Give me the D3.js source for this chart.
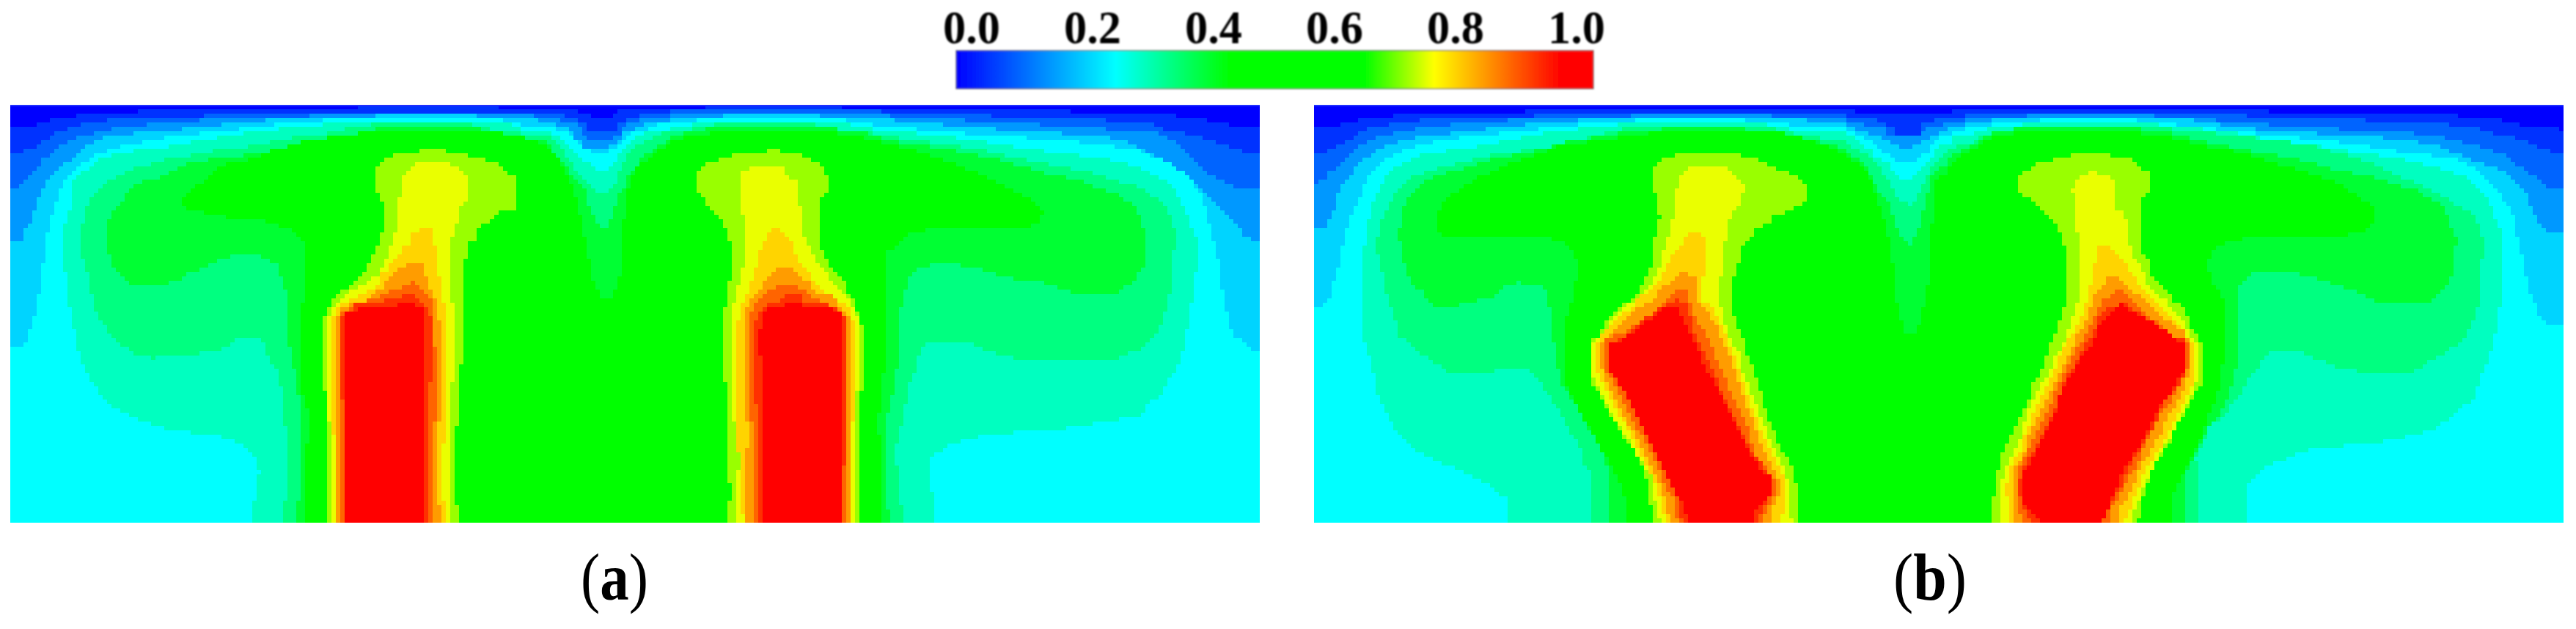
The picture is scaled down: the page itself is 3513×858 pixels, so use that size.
<!DOCTYPE html>
<html><head><meta charset="utf-8">
<script src="https://cdn.jsdelivr.net/npm/d3@7/dist/d3.min.js"></script>
<style>html,body{margin:0;padding:0;background:#fff;overflow:hidden}</style>
</head><body><svg id="chart" width="3513" height="858"></svg>
<script>
// Colour-bar ticks
const tickValues=[0,0.2,0.4,0.6,0.8,1];
const tickLabels=["0.0","0.2","0.4","0.6","0.8","1.0"];
const barStops=[[0,"#0000ff"],[0.25,"#00ffff"],[0.43,"#00ff00"],[0.64,"#00ff00"],[0.75,"#ffff00"],[0.95,"#ff0000"],[1,"#ff0000"]];
const captions=["(","a",")"];
// Contour levels (lower bound of each band) and the band colours
const contourLevels=[0,0.05,0.1,0.15,0.2,0.25,0.3,0.35,0.4,0.45,0.65,0.72,0.78,0.83,0.88,0.93,0.97];
const bandColours=["#0000ff","#0032ff","#0064ff","#0098ff","#00d4ff","#00ffff","#00ffc0","#00ff80","#00ff33","#00ff00","#99ff00","#eaff00","#ffd400","#ff9c00","#ff6400","#ff3000","#ff0000"];
// Field coordinates: x along the domain, y depth. Each list: iso-line of a level.
// PANEL A, outer iso-lines (left half, right half)
const a1L=[[24,115],[90,115],[90,97],[120,97],[120,82],[183,82],[183,66],[330,66],[330,50],[848,50],[848,35],[1185,35],[1185,50],[1375,50],[1375,66],[1470,66],[1470,50]];
const a1R=[[190,50],[190,35],[518,35],[518,50],[1065,50],[1065,66],[1310,66],[1310,82],[1383,82],[1383,97],[1437,97],[1437,115],[1510,115]];
const a2L=[[24,208],[55,208],[55,193],[88,193],[88,178],[120,150],[130,130],[183,115],[205,97],[310,82],[480,82],[480,66],[1345,66],[1345,82],[1408,82],[1408,97],[1460,97],[1460,82]];
const a2R=[[45,82],[45,66],[118,66],[118,50],[612,50],[612,66],[875,66],[875,82],[1140,82],[1140,97],[1255,97],[1255,115],[1360,146],[1425,178],[1458,193],[1480,208],[1510,208]];
const a3L=[[24,335],[55,320],[70,290],[88,256],[105,225],[120,208],[130,193],[172,160],[195,146],[280,115],[405,97],[552,82],[733,82],[733,66],[1270,66],[1270,82],[1335,82],[1335,97],[1365,115],[1397,130],[1460,130],[1480,115]];
const a3R=[[20,97],[45,82],[118,66],[635,66],[635,82],[815,82],[815,97],[990,97],[990,115],[1140,115],[1140,130],[1255,130],[1300,160],[1330,193],[1395,290],[1465,335],[1510,335]];
const a4L=[[24,525],[55,525],[55,495],[68,463],[88,383],[100,335],[120,290],[140,256],[172,225],[205,178],[258,146],[352,130],[480,115],[575,97],[700,82],[895,82],[895,66],[1133,66],[1133,82],[1280,82],[1280,97],[1320,115],[1360,130],[1385,146],[1397,160],[1460,160],[1470,146]];
const a4R=[[0,130],[25,115],[55,97],[105,82],[233,82],[233,66],[465,66],[465,82],[640,82],[640,97],[760,97],[760,115],[888,115],[888,130],[1035,130],[1035,146],[1140,146],[1215,178],[1290,240],[1340,290],[1395,370],[1437,430],[1480,510],[1510,525]];
const a5L=[[24,890],[58,890],[68,845],[78,810],[88,735],[100,635],[110,510],[120,430],[130,400],[152,300],[172,270],[195,240],[237,208],[258,193],[310,178],[352,160],[425,146],[510,130],[605,115],[700,97],[828,82],[1185,82],[1205,97],[1280,115],[1325,130],[1345,146],[1375,178],[1397,208],[1470,208],[1480,178]];
const a5R=[[10,160],[30,130],[55,115],[85,97],[190,82],[518,82],[540,97],[645,115],[760,130],[885,146],[1035,160],[1130,178],[1215,193],[1270,225],[1310,256],[1340,290],[1370,350],[1385,420],[1395,500],[1415,605],[1425,740],[1437,800],[1447,860],[1465,875],[1490,905],[1510,905]];
const a6L=[[595,1524],[595,1460],[605,1450],[605,1350],[617,1345],[605,1300],[595,1270],[565,1240],[545,1222],[470,1208],[395,1190],[362,1175],[320,1150],[290,1130],[258,1100],[235,1065],[225,1035],[205,985],[193,950],[183,890],[172,810],[162,730],[152,600],[152,480],[172,365],[172,300],[205,270],[237,225],[280,208],[352,193],[425,178],[480,160],[552,146],[605,130],[700,115],[828,97],[1205,97],[1220,115],[1270,130],[1300,146]];
const a6R=[[160,97],[518,97],[560,115],[645,130],[760,146],[900,178],[1035,208],[1140,225],[1215,256],[1290,305],[1320,370],[1362,520],[1362,600],[1350,720],[1335,860],[1320,950],[1300,1000],[1280,1060],[1250,1095],[1225,1140],[1160,1160],[1100,1175],[1025,1192],[875,1208],[800,1235],[760,1255],[728,1300],[728,1400],[738,1460],[738,1524]];
const a7L=[[668,1524],[680,1410],[680,1220],[668,1050],[660,985],[645,960],[635,920],[625,880],[605,860],[575,860],[550,880],[530,905],[500,905],[470,925],[362,937],[320,920],[290,890],[268,860],[245,815],[225,770],[215,700],[205,620],[193,560],[193,480],[205,400],[215,365],[258,305],[300,270],[405,225],[480,208],[530,193],[625,178],[660,160],[730,146],[808,130],[828,115],[922,97],[1110,97],[1130,115],[1220,130],[1265,145]];
const a7R=[[160,115],[265,97],[445,97],[475,115],[560,130],[645,150],[740,170],[850,195],[965,235],[1090,270],[1215,325],[1280,380],[1310,480],[1300,680],[1290,745],[1280,790],[1270,840],[1250,870],[1225,905],[1185,925],[1160,950],[995,950],[920,935],[850,905],[810,875],[720,880],[700,930],[690,990],[680,1020],[645,1270],[655,1415],[665,1524]];
const a8L=[[700,1524],[712,1410],[712,1110],[700,985],[690,930],[680,820],[680,715],[668,660],[660,610],[640,590],[615,572],[552,572],[520,590],[500,605],[480,620],[450,635],[427,655],[405,670],[320,685],[300,665],[280,635],[268,605],[258,555],[258,447],[268,415],[290,380],[310,335],[340,305],[385,290],[405,270],[450,240],[530,225],[605,208],[660,193],[755,160],[808,146],[880,130],[902,115],[1130,115],[1165,130],[1228,160],[1260,165]];
const a8R=[[233,115],[475,115],[560,130],[640,165],[730,185],[880,225],[1005,280],[1090,305],[1130,335],[1170,355],[1215,400],[1235,480],[1235,605],[1215,655],[1195,680],[1160,715],[1090,715],[1000,670],[900,650],[845,620],[790,605],[735,605],[700,620],[680,640],[665,720],[655,765],[655,925],[640,1050],[625,1150],[625,1460],[635,1524]];
const a9L=[[722,1524],[722,1460],[733,1130],[722,1110],[712,985],[712,870],[722,685],[722,525],[690,480],[660,463],[617,447],[510,430],[470,415],[427,395],[427,370],[470,320],[500,290],[500,270],[552,240],[605,225],[625,208],[660,193],[700,178],[733,160],[808,146],[880,130],[1165,130],[1230,146],[1260,160],[1285,175]];
const a9R=[[160,146],[233,130],[475,130],[550,146],[640,178],[720,210],[780,240],[880,305],[920,335],[945,355],[975,385],[995,410],[985,462],[930,478],[730,478],[680,495],[655,525],[625,560],[625,925],[612,1030],[605,1160],[612,1415],[615,1524]];
// PANEL A, iso-lines around the central dip
const a1V=[[0,18],[150,18],[150,36],[205,36],[205,54],[295,54],[295,36],[313,36],[313,18],[600,18]];
const a2V=[[0,36],[95,36],[95,54],[150,54],[150,72],[185,72],[185,108],[313,108],[313,72],[350,72],[350,54],[405,54],[405,36],[530,36],[530,18],[600,18]];
const a3V=[[0,54],[78,54],[78,72],[150,72],[150,90],[168,90],[168,126],[185,126],[185,144],[295,144],[295,126],[330,126],[330,90],[350,90],[350,72],[405,72],[405,54],[530,54],[530,36],[600,36]];
const a4V=[[0,72],[60,72],[60,90],[112,90],[112,108],[130,108],[130,144],[168,144],[168,180],[275,180],[275,162],[313,162],[313,144],[330,144],[330,108],[385,108],[385,90],[420,90],[420,72],[515,72],[515,54],[600,54]];
const a5V=[[0,90],[58,90],[58,108],[112,108],[112,126],[130,126],[130,144],[150,144],[150,162],[168,162],[168,180],[205,180],[205,198],[275,198],[275,180],[313,180],[313,162],[330,162],[330,144],[350,144],[350,126],[368,126],[368,108],[440,108],[440,90],[475,90],[475,72],[600,72]];
const a6V=[[0,108],[40,108],[40,126],[78,126],[78,144],[95,144],[95,162],[112,162],[112,180],[130,180],[130,198],[150,198],[150,216],[168,216],[168,234],[205,234],[205,252],[222,252],[222,270],[275,270],[275,252],[295,252],[295,234],[313,234],[313,198],[330,198],[330,180],[350,180],[350,162],[368,162],[368,144],[385,144],[385,126],[420,126],[420,108],[530,108],[530,90],[600,90]];
const a7V=[[0,126],[22,126],[60,162],[78,180],[95,216],[112,234],[130,252],[150,290],[168,306],[205,342],[222,360],[275,360],[275,342],[295,324],[313,270],[330,234],[350,198],[368,180],[405,162],[440,144],[460,126],[495,126],[495,108],[600,108]];
const a8V=[[0,144],[22,144],[22,162],[40,180],[58,216],[78,234],[95,252],[112,270],[130,306],[168,342],[185,378],[185,414],[205,450],[222,474],[240,492],[240,510],[275,510],[275,474],[295,450],[295,415],[313,396],[313,365],[330,345],[350,290],[368,270],[385,250],[405,216],[440,198],[477,162],[530,144],[530,126],[568,126],[568,108],[600,108]];
const a9V=[[0,162],[22,180],[60,216],[78,234],[95,290],[112,306],[130,360],[150,432],[168,546],[185,546],[185,600],[200,700],[240,790],[280,790],[320,700],[330,600],[330,470],[345,440],[345,365],[368,290],[385,250],[440,216],[477,180],[530,162],[530,144],[568,144],[568,126],[600,126]];
// PANEL A, plume iso-lines
const a10P1=[[775,1524],[775,1050],[765,1045],[765,810],[775,765],[785,745],[795,715],[808,700],[828,685],[840,665],[860,640],[880,590],[890,558],[902,510],[912,475],[912,415],[902,350],[890,345],[890,258],[902,240],[922,225],[945,208],[997,208],[997,193],[1060,193],[1060,208],[1112,208],[1112,225],[1155,225],[1155,240],[1185,240],[1185,258],[1205,275],[1218,290],[1228,305],[1228,382],[1218,415],[1185,415],[1175,435],[1145,465],[1133,480],[1133,510],[1112,525],[1112,590],[1102,590],[1102,950],[1090,955],[1090,1170],[1080,1175],[1080,1460],[1090,1460],[1090,1524]];
const a11P1=[[785,1524],[785,1210],[775,1095],[775,810],[785,765],[808,730],[828,700],[850,685],[870,665],[900,635],[912,605],[922,575],[932,520],[932,495],[945,490],[945,365],[955,350],[955,305],[965,270],[975,258],[997,240],[1060,240],[1080,258],[1102,272],[1112,305],[1112,350],[1102,385],[1090,400],[1090,450],[1080,478],[1070,510],[1070,745],[1080,745],[1080,1015],[1070,1020],[1070,1524]];
const a12P1=[[795,1524],[795,1205],[785,1200],[785,810],[795,780],[808,750],[828,735],[850,715],[880,695],[905,680],[905,635],[922,620],[932,590],[945,575],[955,540],[975,525],[975,495],[997,478],[1028,478],[1028,540],[1040,540],[1040,650],[1050,650],[1050,730],[1060,745],[1060,1240],[1050,1240],[1050,1445],[1060,1445],[1060,1524]];
const a13P1=[[795,1524],[795,1180],[797,1100],[797,810],[808,765],[838,745],[870,735],[890,700],[912,685],[922,650],[932,640],[965,605],[975,590],[1007,605],[1007,635],[1017,650],[1017,685],[1028,715],[1040,745],[1040,810],[1050,810],[1050,1160],[1040,1160],[1040,1440],[1050,1524]];
const a14P1=[[808,1524],[808,1080],[807,780],[838,760],[850,745],[880,730],[922,700],[955,685],[975,665],[985,668],[997,685],[1017,715],[1028,745],[1028,840],[1040,1010],[1040,1150],[1028,1160],[1028,1524]];
const a15P1=[[817,1524],[817,1080],[807,1080],[807,780],[838,778],[838,745],[870,745],[922,730],[955,715],[985,715],[997,745],[1017,760],[1028,840],[1028,1015],[1017,1015],[1017,1524]];
const a16P1=[[817,1524],[817,778],[848,778],[848,762],[943,762],[943,746],[985,746],[985,762],[1007,762],[1007,1524]];
const a10P2=[[243,1524],[243,1445],[255,1440],[243,1240],[243,1030],[233,1030],[233,765],[243,760],[243,665],[255,660],[255,540],[243,480],[223,430],[200,400],[190,365],[170,350],[170,290],[180,256],[200,240],[233,225],[265,208],[340,208],[340,193],[370,193],[370,208],[423,208],[423,225],[465,240],[475,270],[486,290],[486,320],[475,365],[465,365],[465,555],[475,560],[486,590],[500,635],[528,670],[528,700],[550,745],[560,810],[570,815],[570,1045],[560,1050],[560,1524]];
const a11P2=[[265,1524],[265,1410],[275,1300],[255,1095],[255,780],[265,715],[275,655],[285,610],[285,430],[275,410],[275,290],[285,272],[307,256],[380,256],[390,288],[412,305],[412,380],[423,410],[423,490],[432,520],[445,560],[455,590],[480,635],[500,680],[528,715],[540,745],[550,780],[560,810],[560,1050],[550,1060],[550,1524]];
const a12P2=[[285,1524],[275,1405],[275,1300],[265,1200],[265,860],[275,780],[285,730],[307,650],[307,635],[318,590],[330,530],[350,478],[370,478],[400,525],[412,585],[435,625],[455,665],[475,700],[500,730],[530,745],[540,795],[550,810],[550,1070],[540,1205],[540,1524]];
const a13P2=[[285,1524],[295,1190],[285,1100],[285,800],[295,735],[318,700],[340,655],[360,620],[400,620],[412,640],[440,665],[455,700],[495,715],[510,745],[530,780],[540,810],[540,1524]];
const a14P2=[[307,1524],[307,1190],[295,1110],[295,795],[307,765],[318,735],[345,695],[360,685],[412,685],[445,715],[475,745],[497,760],[518,780],[528,795],[528,1524]];
const a15P2=[[318,1524],[318,1110],[307,1100],[307,860],[318,780],[328,765],[340,745],[380,730],[380,715],[423,715],[423,730],[455,745],[500,750],[518,778],[528,800],[528,1100],[518,1524]];
const a16P2=[[328,1524],[328,935],[318,925],[328,780],[340,762],[380,762],[380,746],[423,746],[423,762],[497,762],[518,778],[518,1524]];
// PANEL B, outer iso-lines
const b1L=[[39,115],[103,115],[103,97],[145,97],[145,82],[228,82],[228,66],[545,66],[545,50]];
const b1R=[[77,50],[840,50],[840,66],[1287,66],[1287,82],[1393,82],[1393,97],[1437,97],[1437,115],[1520,115],[1542,130]];
const b2L=[[39,208],[70,208],[70,193],[92,193],[92,178],[133,160],[145,130],[176,115],[250,97],[345,82],[565,82],[565,66]];
const b2R=[[108,66],[787,66],[787,82],[1063,82],[1063,97],[1265,97],[1265,115],[1340,115],[1340,130],[1413,146],[1445,160],[1470,178],[1490,193],[1542,208]];
const b3L=[[39,320],[60,305],[70,285],[103,240],[125,208],[145,178],[197,146],[250,130],[303,115],[418,97],[597,82],[797,82],[797,66],[1123,66],[1123,82],[1200,82]];
const b3R=[[257,82],[257,66],[565,66],[565,82],[640,82],[770,97],[915,115],[1140,130],[1235,146],[1330,178],[1395,208],[1450,270],[1490,305],[1510,335],[1542,335]];
const b4L=[[39,480],[70,465],[82,430],[103,320],[125,290],[145,240],[197,193],[250,160],[303,146],[418,130],[470,115],[597,97],[745,82],[1200,82],[1220,97]];
const b4R=[[205,82],[640,82],[670,97],[765,115],[860,130],[1065,146],[1160,160],[1235,178],[1310,225],[1395,270],[1455,350],[1470,420],[1500,490],[1542,493]];
const b5L=[[39,765],[70,745],[82,685],[103,573],[113,495],[125,430],[145,385],[165,300],[197,240],[218,225],[260,193],[300,178],[345,160],[418,146],[525,130],[608,115],[725,97],[893,82],[1030,82],[1105,97],[1230,115]];
const b5R=[[205,97],[385,82],[470,82],[565,97],[670,115],[765,130],[860,146],[965,160],[1060,178],[1160,205],[1280,225],[1340,270],[1385,340],[1420,420],[1445,590],[1460,700],[1490,800],[1510,825],[1542,825]];
const b6L=[[501,1524],[501,1445],[470,1410],[450,1380],[420,1365],[385,1335],[345,1318],[313,1285],[282,1270],[260,1240],[240,1210],[218,1160],[208,1110],[187,1060],[176,950],[155,860],[155,700],[155,570],[165,480],[176,400],[197,325],[218,270],[260,240],[303,208],[400,193],[450,178],[510,160],[608,130],[705,115],[820,97],[1105,97],[1130,115],[1230,130]];
const b6R=[[170,115],[310,97],[520,97],[640,115],[740,130],[840,160],[935,178],[1065,208],[1140,225],[1235,256],[1310,290],[1365,380],[1395,500],[1395,690],[1385,810],[1372,900],[1360,960],[1340,1020],[1330,1085],[1305,1100],[1265,1160],[1230,1190],[1150,1225],[1075,1240],[980,1255],[915,1270],[885,1290],[830,1320],[810,1350],[787,1380],[787,1524]];
const b7L=[[703,1524],[703,1350],[680,1320],[670,1250],[650,1210],[630,1140],[610,1100],[585,1040],[565,1000],[545,970],[470,970],[470,985],[355,985],[325,955],[295,925],[270,890],[240,855],[230,790],[218,750],[208,680],[197,600],[187,540],[197,450],[218,385],[250,320],[280,285],[345,256],[395,240],[470,208],[575,193],[640,178],[700,146],[790,115],[1135,115],[1145,130],[1230,146],[1260,160]];
const b7R=[[310,115],[560,115],[665,130],[765,146],[935,178],[1000,205],[1100,250],[1140,290],[1200,320],[1275,380],[1330,430],[1350,510],[1340,745],[1330,790],[1310,860],[1270,905],[1220,950],[1180,985],[1050,985],[1000,970],[940,935],[890,905],[850,905],[830,925],[820,950],[800,985],[790,1000],[770,1060],[735,1130],[695,1180],[660,1290],[672,1410],[672,1524]];
const b8L=[[745,1524],[745,1380],[735,1320],[715,1240],[690,1180],[670,1115],[650,1080],[630,1035],[620,985],[600,800],[597,700],[585,685],[525,668],[490,685],[470,715],[420,733],[390,745],[345,765],[315,745],[295,700],[270,670],[260,640],[250,570],[240,510],[250,400],[280,335],[325,290],[380,270],[420,250],[470,225],[540,208],[590,190],[640,165],[725,146],[790,130],[915,115],[1010,115],[1135,130],[1220,160]];
const b8R=[[185,130],[255,115],[490,115],[590,130],[665,160],[715,178],[780,195],[860,215],[935,240],[1000,270],[1085,290],[1140,320],[1190,340],[1225,370],[1255,400],[1285,510],[1280,630],[1265,670],[1245,710],[1222,745],[1118,745],[1085,730],[1045,700],[1000,680],[945,650],[895,635],[800,635],[780,650],[765,680],[765,850],[755,1000],[740,1070],[720,1130],[690,1190],[670,1240],[650,1300],[630,1380],[630,1524]];
const b9L=[[777,1524],[777,1430],[765,1380],[745,1320],[725,1270],[705,1210],[680,1150],[660,1095],[640,1040],[640,790],[650,740],[660,680],[670,600],[650,545],[620,520],[600,510],[355,510],[335,480],[335,420],[345,385],[385,335],[430,290],[470,270],[510,240],[575,208],[625,180],[725,160],[870,130],[1145,130],[1220,160]];
const b9R=[[185,146],[255,130],[490,130],[585,146],[660,175],[770,205],[830,235],[905,265],[990,310],[1030,340],[1060,370],[1085,400],[1085,460],[1055,490],[980,510],[780,510],[725,530],[705,555],[690,590],[695,650],[715,700],[725,730],[725,950],[715,1050],[695,1130],[670,1230],[640,1320],[620,1380],[600,1430],[600,1524]];
// PANEL B, iso-lines around the central dip
const b1V=[[0,18],[92,18],[92,36],[490,36],[490,18],[600,18]];
const b2V=[[0,36],[55,36],[55,54],[180,54],[180,72],[219,72],[219,90],[255,90],[255,126],[363,126],[363,72],[418,72],[418,54],[545,54],[545,36],[600,36]];
const b3V=[[0,54],[55,54],[55,72],[128,72],[128,90],[219,90],[219,126],[237,126],[237,126],[363,126],[363,108],[382,108],[382,90],[455,90],[455,72],[545,72],[545,54],[600,54]];
const b4V=[[0,72],[55,72],[55,90],[92,90],[92,108],[146,108],[146,126],[182,126],[200,144],[237,144],[237,162],[273,162],[273,180],[327,180],[327,162],[363,162],[363,144],[400,144],[400,126],[435,126],[435,108],[470,108],[470,90],[545,90],[545,72],[600,72]];
const b5V=[[0,90],[55,90],[55,108],[92,108],[92,126],[128,126],[128,144],[165,144],[165,162],[182,162],[182,180],[200,180],[200,198],[237,198],[237,216],[255,216],[255,234],[345,234],[345,216],[363,216],[363,198],[400,198],[400,162],[418,162],[418,144],[435,144],[435,126],[490,126],[490,108],[545,108],[545,90],[600,90]];
const b6V=[[0,108],[55,108],[55,126],[90,126],[90,144],[110,144],[110,162],[128,162],[128,180],[165,180],[165,216],[200,216],[200,234],[237,234],[237,270],[255,270],[255,288],[273,288],[273,310],[327,310],[327,288],[345,288],[345,270],[363,270],[363,252],[380,252],[380,234],[400,234],[400,216],[418,216],[418,180],[435,180],[435,162],[490,162],[490,126],[580,126],[580,108],[600,108]];
const b7V=[[0,144],[35,144],[55,162],[92,180],[128,198],[165,234],[200,270],[200,290],[237,310],[237,345],[255,362],[273,400],[310,400],[310,418],[327,418],[327,400],[345,380],[345,360],[363,340],[382,290],[400,250],[420,234],[455,200],[490,180],[510,162],[580,162],[580,144],[600,126]];
const b8V=[[0,162],[35,180],[55,198],[92,216],[128,234],[146,270],[165,306],[200,380],[237,400],[237,435],[255,490],[273,545],[292,548],[310,582],[327,582],[327,564],[345,510],[363,490],[363,455],[382,380],[400,290],[418,270],[455,250],[490,200],[545,180],[600,144]];
const b9V=[[0,180],[40,198],[55,216],[92,234],[128,252],[146,290],[165,360],[182,380],[200,455],[218,510],[237,600],[260,800],[290,945],[335,945],[380,800],[400,600],[400,490],[418,490],[418,360],[420,300],[455,290],[470,250],[510,216],[545,198],[580,180],[600,162]];
// PANEL B, plume iso-lines
const b10P1=[[850,1524],[850,1510],[840,1460],[830,1380],[820,1320],[800,1260],[780,1230],[765,1190],[745,1140],[730,1100],[715,1060],[705,1040],[695,1030],[695,875],[715,860],[725,825],[745,790],[775,750],[800,720],[820,680],[840,620],[850,590],[850,510],[862,430],[850,350],[840,300],[850,258],[872,225],[915,208],[1050,208],[1050,225],[1092,225],[1125,255],[1155,270],[1190,290],[1210,320],[1210,382],[1190,400],[1165,415],[1135,430],[1115,462],[1085,480],[1080,510],[1060,525],[1050,590],[1040,650],[1030,650],[1030,750],[1040,800],[1050,830],[1060,875],[1070,925],[1085,985],[1100,1050],[1115,1130],[1135,1210],[1155,1270],[1175,1320],[1188,1400],[1188,1524]];
const b11P1=[[862,1524],[850,1440],[840,1350],[810,1290],[780,1210],[755,1160],[735,1100],[715,1050],[703,1000],[703,890],[725,845],[745,810],[770,765],[800,730],[820,700],[840,670],[862,605],[870,560],[885,495],[893,430],[893,400],[905,305],[915,272],[945,256],[1020,256],[1040,290],[1060,320],[1060,350],[1050,400],[1030,430],[1020,520],[1010,525],[1010,650],[1000,655],[1010,790],[1020,830],[1030,880],[1050,920],[1060,990],[1075,1050],[1090,1100],[1110,1180],[1125,1240],[1150,1300],[1170,1400],[1175,1524]];
const b12P1=[[875,1524],[862,1440],[850,1390],[830,1320],[810,1260],[790,1195],[760,1130],[735,1060],[715,990],[703,940],[715,875],[735,830],[760,795],[790,765],[815,720],[850,685],[862,650],[875,620],[892,570],[915,525],[935,495],[957,495],[965,510],[975,570],[975,650],[955,655],[955,740],[985,750],[1000,790],[1020,860],[1030,900],[1045,960],[1060,1020],[1075,1090],[1100,1190],[1115,1230],[1135,1300],[1158,1370],[1158,1440],[1150,1524]];
const b13P1=[[885,1524],[875,1440],[860,1380],[840,1320],[820,1260],[795,1190],[770,1130],[745,1060],[725,985],[715,920],[725,875],[765,825],[800,770],[840,735],[860,700],[890,660],[915,620],[945,650],[945,690],[955,740],[985,795],[1000,830],[1015,890],[1035,960],[1050,1020],[1065,1100],[1090,1190],[1100,1240],[1125,1320],[1145,1370],[1145,1430],[1125,1490],[1125,1524]];
const b14P1=[[905,1524],[895,1440],[870,1380],[850,1300],[830,1240],[800,1170],[775,1100],[755,1040],[735,985],[725,875],[775,845],[810,810],[850,770],[880,735],[895,700],[925,700],[935,745],[945,790],[975,860],[990,920],[1010,985],[1030,1060],[1050,1120],[1075,1200],[1085,1270],[1110,1320],[1135,1370],[1135,1430],[1115,1480],[1105,1524]];
const b15P1=[[915,1524],[905,1440],[885,1380],[860,1290],[830,1210],[800,1120],[780,1060],[750,985],[735,890],[775,860],[800,830],[840,780],[870,750],[905,730],[925,745],[935,790],[945,860],[975,950],[1000,1020],[1020,1100],[1050,1190],[1075,1260],[1115,1340],[1130,1380],[1125,1430],[1105,1470],[1095,1524]];
const b16P1=[[935,1524],[925,1490],[905,1430],[880,1360],[850,1270],[820,1190],[795,1100],[770,1040],[745,985],[735,892],[775,875],[810,825],[840,795],[872,762],[905,762],[915,795],[940,860],[955,920],[975,985],[1000,1050],[1020,1115],[1050,1205],[1075,1270],[1105,1340],[1122,1355],[1125,1425],[1105,1460],[1085,1490],[1083,1524]];
const b10P2=[[172,1524],[172,1460],[185,1350],[195,1290],[205,1250],[225,1190],[240,1140],[260,1085],[270,1030],[290,985],[300,935],[320,860],[335,800],[345,750],[355,700],[355,570],[340,520],[330,475],[310,430],[290,400],[265,365],[236,350],[236,290],[268,256],[290,240],[330,225],[385,208],[458,208],[458,225],[500,225],[525,256],[545,270],[555,290],[555,320],[543,365],[533,365],[533,570],[545,580],[555,650],[585,690],[610,735],[635,770],[650,830],[680,890],[680,1000],[670,1045],[650,1080],[635,1130],[615,1170],[600,1240],[575,1290],[555,1340],[540,1410],[530,1460],[522,1524]];
const b11P2=[[195,1524],[195,1380],[205,1320],[225,1270],[240,1220],[255,1140],[270,1090],[290,1030],[310,985],[325,930],[345,880],[365,800],[375,750],[385,685],[385,510],[375,490],[375,365],[363,350],[375,305],[385,290],[405,272],[427,272],[427,290],[458,290],[468,320],[470,410],[490,420],[500,510],[510,570],[530,620],[545,670],[565,700],[590,735],[610,770],[630,810],[650,860],[670,890],[670,1000],[655,1050],[635,1110],[615,1180],[590,1240],[565,1310],[550,1350],[530,1420],[510,1490],[510,1524]];
const b12P2=[[215,1524],[205,1400],[215,1330],[240,1270],[255,1190],[280,1110],[300,1050],[320,985],[335,920],[360,860],[385,790],[405,700],[415,620],[428,540],[458,540],[470,570],[490,600],[510,640],[530,690],[550,720],[585,770],[610,810],[640,860],[660,890],[660,1000],[645,1060],[625,1110],[605,1180],[590,1220],[565,1280],[540,1340],[520,1410],[500,1490],[490,1524]];
const b13P2=[[225,1524],[225,1335],[250,1270],[265,1195],[290,1120],[310,1070],[330,1000],[350,945],[375,860],[405,780],[415,720],[450,650],[480,655],[490,680],[530,720],[565,770],[600,810],[630,840],[650,880],[650,985],[635,1030],[620,1090],[595,1140],[580,1200],[555,1260],[530,1320],[510,1400],[480,1470],[480,1524]];
const b14P2=[[245,1524],[235,1460],[235,1335],[255,1270],[285,1190],[305,1130],[320,1070],[345,985],[365,930],[395,860],[420,790],[440,730],[470,700],[490,700],[520,745],[550,790],[585,830],[610,860],[640,880],[650,900],[640,985],[620,1030],[600,1090],[575,1140],[555,1200],[530,1280],[510,1340],[480,1420],[458,1470],[458,1524]];
const b15P2=[[265,1524],[245,1460],[235,1400],[245,1335],[270,1270],[300,1190],[320,1130],[335,1060],[360,985],[380,930],[410,860],[430,790],[445,760],[490,745],[520,770],[550,800],[610,860],[640,880],[640,985],[620,1030],[585,1090],[560,1180],[535,1240],[505,1320],[480,1400],[460,1450],[445,1490],[437,1524]];
const b16P2=[[288,1524],[265,1490],[245,1450],[245,1350],[270,1290],[300,1205],[320,1150],[330,1085],[360,1000],[385,935],[415,880],[430,810],[460,780],[480,745],[500,762],[530,790],[575,825],[610,870],[640,890],[640,970],[620,1000],[600,1060],[575,1110],[545,1190],[520,1270],[490,1320],[470,1400],[445,1490],[437,1524]];

const SPLIT=1481, COLS=284, ROWS=95, Y0=35, Y1=1524, VY=0.8707;
const shifted=(r,f)=>r.map(([x,y])=>[SPLIT+f*x,y]);

function buildRegions(cfg,tops,closedTops,p1,p2){
  const {xMin,xMax,f,vx0,vk,xA,xB}=cfg;
  const regions=contourLevels.map(()=>[]);
  const line=([l,v,r])=>l.filter(p=>p[0]<xA)
    .concat(v.map(([zx,zy])=>[vx0+vk*zx,Y0+VY*zy]))
    .concat(shifted(r,f).filter(p=>p[0]>xB));
  tops.forEach((t,i)=>regions[i+1].push(line(t).concat([[xMax,Y1],[xMin,Y1]])));
  closedTops.forEach((t,i)=>regions[i+6].push(line(t)));
  p1.forEach((p,i)=>regions[i+10].push(p));
  p2.forEach((p,i)=>regions[i+10].push(shifted(p,f)));
  return regions;
}
const panels=[
 {x0:14,xMin:24,xMax:2991,regions:buildRegions({xMin:24,xMax:2991,f:1,vx0:1288,vk:0.5804,xA:1288,xB:1636},
   [[a1L,a1V,a1R],[a2L,a2V,a2R],[a3L,a3V,a3R],[a4L,a4V,a4R],[a5L,a5V,a5R]],
   [[a6L,a6V,a6R],[a7L,a7V,a7R],[a8L,a8V,a8R],[a9L,a9V,a9R]],
   [a10P1,a11P1,a12P1,a13P1,a14P1,a15P1,a16P1],[a10P2,a11P2,a12P2,a13P2,a14P2,a15P2,a16P2])},
 {x0:1792,xMin:39,xMax:3011,regions:buildRegions({xMin:39,xMax:3011,f:0.992,vx0:1274,vk:0.5814,xA:1274,xB:1623},
   [[b1L,b1V,b1R],[b2L,b2V,b2R],[b3L,b3V,b3R],[b4L,b4V,b4R],[b5L,b5V,b5R]],
   [[b6L,b6V,b6R],[b7L,b7V,b7R],[b8L,b8V,b8R],[b9L,b9V,b9R]],
   [b10P1,b11P1,b12P1,b13P1,b14P1,b15P1,b16P1],[b10P2,b11P2,b12P2,b13P2,b14P2,b15P2,b16P2])}
];

const svg=d3.select("#chart");
const defs=svg.append("defs");
const soft=defs.append("filter").attr("id","soft").attr("x","-10%").attr("y","-20%").attr("width","120%").attr("height","140%");
soft.append("feGaussianBlur").attr("stdDeviation",0.9);
const grad=defs.append("linearGradient").attr("id","bar");
grad.selectAll("stop").data(barStops).join("stop").attr("offset",d=>d[0]).attr("stop-color",d=>d[1]);

const colour=d3.scaleThreshold().domain(contourLevels.slice(1)).range(bandColours);
const PW=1704,PH=570,PT=143;
panels.forEach(p=>{
  const col=d3.scaleBand().domain(d3.range(COLS)).range([0,PW]);
  const row=d3.scaleBand().domain(d3.range(ROWS)).range([0,PH]);
  const fx=d3.scaleLinear().domain([p.xMin,p.xMax]).range([0,PW]);
  const fy=d3.scaleLinear().domain([Y0,Y1]).range([0,PH]);
  const g=svg.append("g").attr("transform",`translate(${p.x0},${PT})`).attr("shape-rendering","crispEdges");
  const runs=[];
  const regs=p.regions;
  for(let r=0;r<ROWS;r++){
    const cy=fy.invert(row(r)+row.bandwidth()/2);
    let start=0,prev=-1;
    for(let c=0;c<=COLS;c++){
      let val=-2;
      if(c<COLS){
        const cx=fx.invert(col(c)+col.bandwidth()/2);
        val=0;
        for(let k=regs.length-1;k>0;k--){
          if(regs[k].some(poly=>d3.polygonContains(poly,[cx,cy]))){val=k;break;}
        }
      }
      if(val!==prev){
        if(prev>=0)runs.push({r,c0:start,c1:c,level:contourLevels[prev]});
        start=c;prev=val;
      }
    }
  }
  g.selectAll("rect.cell").data(runs).join("rect").attr("class","cell")
    .attr("x",d=>col(d.c0)).attr("y",d=>row(d.r))
    .attr("width",d=>(d.c1-d.c0)*col.bandwidth()).attr("height",row.bandwidth())
    .attr("fill",d=>colour(d.level));
  g.append("rect").attr("class","edge").attr("width",PW).attr("height",1.5).attr("fill","#2030ff");
});

// colour bar
const BX0=1304,BX1=2173,BY0=69,BY1=121;
const tickX=d3.scaleLinear().domain([0,1]).range([1325,2150]);
svg.append("rect").attr("x",BX0).attr("y",BY0).attr("width",BX1-BX0).attr("height",BY1-BY0)
  .attr("fill","url(#bar)").attr("stroke","#555").attr("stroke-opacity",0.7).attr("stroke-width",1.5).attr("filter","url(#soft)");
svg.append("g").selectAll("text").data(tickValues).join("text")
  .attr("x",d=>tickX(d)).attr("y",58.5).attr("text-anchor","middle")
  .attr("font-family","'Liberation Serif'").attr("font-weight","bold").attr("font-size",64)
  .attr("textLength",78).attr("lengthAdjust","spacingAndGlyphs").attr("filter","url(#soft)")
  .attr("fill","#000").text((d,i)=>tickLabels[i]);

// captions
[["a",838],["b",2632]].forEach(([t,x])=>{
  const txt=svg.append("text").attr("x",x).attr("y",818).attr("text-anchor","middle")
    .attr("font-family","'Liberation Serif'").attr("font-size",90).attr("textLength",t==="a"?92:100).attr("lengthAdjust","spacingAndGlyphs").attr("fill","#000");
  txt.append("tspan").text(captions[0]);
  txt.append("tspan").attr("font-weight","bold").text(t);
  txt.append("tspan").text(captions[2]);
});
</script></body></html>
